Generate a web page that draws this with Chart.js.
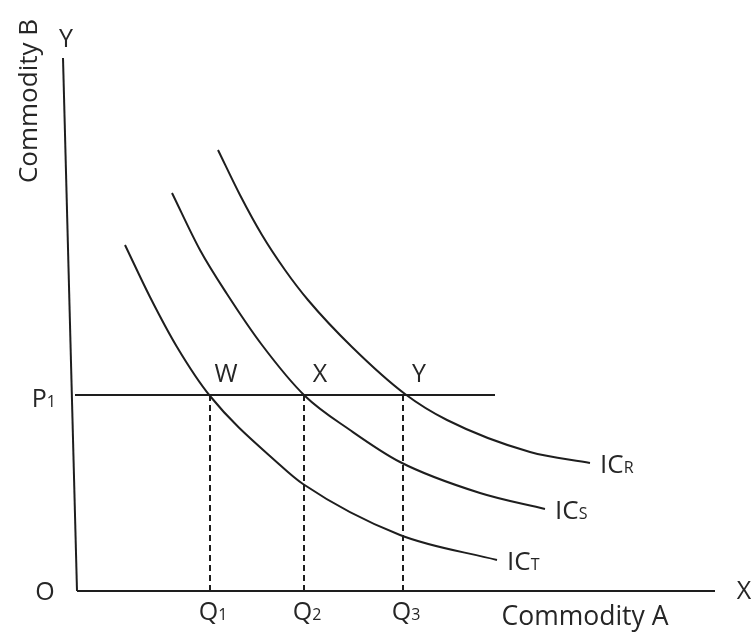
<!DOCTYPE html>
<html><head><meta charset="utf-8">
<script src="https://cdn.jsdelivr.net/npm/chart.js@4/dist/chart.umd.min.js"></script>
<style>html,body{margin:0;padding:0;background:#fff;}canvas{display:block;}</style>
</head><body>
<canvas id="c" width="751" height="634"></canvas>
<script>
// Quantities of Commodity A (x) and Commodity B (y)
const icR_x = [141, 163, 185, 208, 231, 275, 328, 370, 453, 513];
const icR_y = [441, 396, 356, 321, 291, 244, 197, 171, 139, 128];
const icS_x = [95, 123, 150, 185, 228, 273, 323, 403, 468];
const icS_y = [398, 341, 297, 246, 195, 161, 129, 98, 82];
const icT_x = [48, 73, 100, 133, 203, 226, 323, 420];
const icT_y = [346, 294, 244, 195, 126, 107, 56, 31];
const curveNames = ['R', 'S', 'T'];
const P1 = 196;                 // price / budget level of commodity B
const budgetX = [-2, 418];      // extent of the P1 line
const Q = [133, 227, 326];      // Q1, Q2, Q3
const pointNames = ['W', 'X', 'Y'];
const yAxisX = [0, -14];        // drawn axis (slightly tilted as in the source)
const yAxisY = [0, 533];
const xAxisX = [0, 638];

const pts = (xs, ys) => xs.map((x, i) => ({x, y: ys[i]}));
const INK = '#1e1e1e';
const TXT = '#262626';
const FONT = '"Open Sans"';

const curveStyle = {showLine: true, pointRadius: 0, borderColor: INK, borderWidth: 2, fill: false,
  tension: 0.4, cubicInterpolationMode: 'monotone'};
const lineStyle = {showLine: true, pointRadius: 0, borderColor: INK, borderWidth: 2, fill: false, tension: 0};

const datasets = [
  {label: 'yAxis', data: pts(yAxisX, yAxisY), ...lineStyle},
  {label: 'xAxis', data: pts(xAxisX, [0, 0]), ...lineStyle},
  {label: 'P1', data: pts(budgetX, [P1, P1]), ...lineStyle},
  ...Q.map((q, i) => ({label: 'Q' + (i + 1), data: [{x: q, y: 0}, {x: q, y: P1}], ...lineStyle,
    borderDash: [6, 4], borderCapStyle: 'butt'})),
  {label: 'ICR', data: pts(icR_x, icR_y), ...curveStyle},
  {label: 'ICS', data: pts(icS_x, icS_y), ...curveStyle},
  {label: 'ICT', data: pts(icT_x, icT_y), ...curveStyle},
];

function drawSub(ctx, main, sub, x, y, align, big, small) {
  ctx.font = big + 'px ' + FONT;
  const w1 = ctx.measureText(main).width;
  ctx.font = small + 'px ' + FONT;
  const w2 = ctx.measureText(sub).width;
  const tot = w1 + w2;
  let sx = x;
  if (align === 'center') sx = x - tot / 2;
  else if (align === 'right') sx = x - tot;
  ctx.textAlign = 'left';
  ctx.font = big + 'px ' + FONT;
  ctx.fillText(main, sx, y);
  ctx.font = small + 'px ' + FONT;
  ctx.fillText(sub, sx + w1, y);
}

const labels = {
  id: 'labels',
  afterDatasetsDraw(chart) {
    const {ctx, scales: {x, y}} = chart;
    const px = v => x.getPixelForValue(v), py = v => y.getPixelForValue(v);
    ctx.save();
    ctx.fillStyle = TXT;
    ctx.textBaseline = 'alphabetic';
    const BIG = 25, SMALL = 16;
    // axis end labels
    ctx.font = BIG + 'px ' + FONT;
    ctx.textAlign = 'center';
    ctx.fillText('Y', px(yAxisX[1]) + 3, py(yAxisY[1]) - 11);
    ctx.fillText('X', px(xAxisX[1]) + 29, py(0) + 8);
    ctx.fillText('O', px(0) - 32, py(0) + 9);
    // axis titles
    ctx.font = '26.5px ' + FONT;
    ctx.fillText('Commodity A', px(xAxisX[1]) - 130, py(0) + 34);
    ctx.save();
    ctx.translate(px(yAxisX[1]) - 26, py(yAxisY[1]) + 43);
    ctx.rotate(-Math.PI / 2);
    ctx.font = '26px ' + FONT;
    ctx.fillText('Commodity B', 0, 0);
    ctx.restore();
    // P1
    drawSub(ctx, 'P', '1', px(0) - 21, py(P1) + 12, 'right', BIG, SMALL);
    // Q labels and equilibrium points
    Q.forEach((q, i) => {
      drawSub(ctx, 'Q', String(i + 1), px(q) + 3, py(0) + 29, 'center', BIG, SMALL);
      ctx.font = BIG + 'px ' + FONT;
      ctx.textAlign = 'center';
      ctx.fillText(pointNames[i], px(q) + 16, py(P1) - 13);
    });
    // indifference curve labels
    [[icR_x, icR_y], [icS_x, icS_y], [icT_x, icT_y]].forEach(([xs, ys], i) => {
      const n = xs.length - 1;
      drawSub(ctx, 'IC', curveNames[i], px(xs[n]) + 10, py(ys[n]) + 10, 'left', 26, 16);
    });
    ctx.restore();
  }
};

new Chart(document.getElementById('c'), {
  type: 'scatter',
  data: {datasets},
  options: {
    responsive: false,
    animation: false,
    devicePixelRatio: 1,
    layout: {padding: 0},
    plugins: {legend: {display: false}, tooltip: {enabled: false}},
    scales: {
      x: {type: 'linear', min: -77, max: 674, display: false},
      y: {type: 'linear', min: -43, max: 591, display: false}
    }
  },
  plugins: [labels]
});
</script>
</body></html>
